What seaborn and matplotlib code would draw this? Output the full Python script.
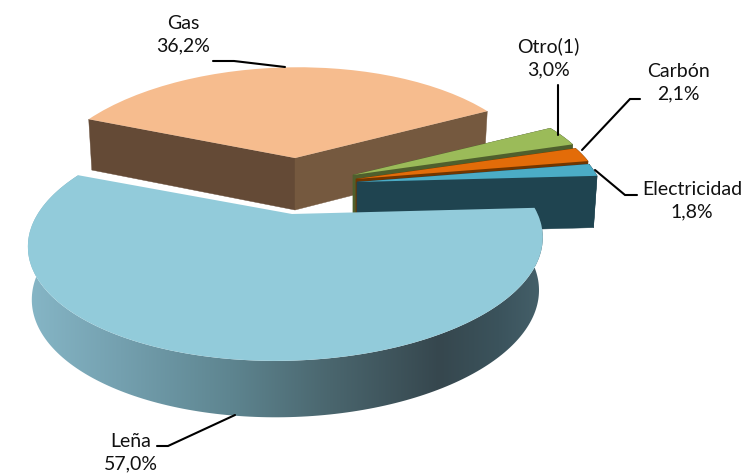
import numpy as np
import matplotlib
matplotlib.use("Agg")
import matplotlib.pyplot as plt
import matplotlib.transforms as mtransforms
from matplotlib.patches import Polygon
from matplotlib.colors import LinearSegmentedColormap
import seaborn as sns

# data (counter-clockwise from the start angle)
categories = ["Gas", "Leña", "Electricidad", "Carbón", "Otro(1)"]
shares = [36.2, 57.0, 1.8, 2.1, 3.0]
value_labels = ["36,2%", "57,0%", "1,8%", "2,1%", "3,0%"]

top_colors = ["#F6BC8E", "#92CBDA", "#4BACC6", "#E36C09", "#9BBB59"]
wall_colors = ["#75593F", "#3B5660", "#1F4450", "#713600", "#4F5F2D"]
side_wall_colors = ["#644A36", "#3B5660", "#1F4450", "#713600", "#4F5F2D"]
draw_rank = [0, 4, 3, 2, 1]

# slice displacement (exploded apex), in pixels
apex_x = [295, 292, 357, 356, 353]
apex_y = [158, 214, 182, 179, 175]
x_scale = [0.965, 1.0, 0.99, 0.99, 0.99]

label_x = [183, 131, 692, 678, 548]
label_y = [35, 453, 201, 83, 58]
leader_x = [[213, 234, 285], [157, 168, 235], [637, 625, 595], [640, 630, 582], [558, 558]]
leader_y = [[61, 61, 67], [446, 446, 415], [195, 195, 170], [99, 99, 150], [85, 135]]

# Leña outer wall shading, left to right
shade_pos = [28, 120, 230, 330, 440, 500, 543]
shade_cols = ["#86B6C6", "#74A0AF", "#5E8590", "#4A666E", "#36474E", "#3B535C", "#45606A"]

sns.set_theme(style="white")
plt.rcParams["font.family"] = ["Lato", "DejaVu Sans"]

A, B, C, D, P, Q = 250.0, -5.0, -6.0, -112.0, 0.03, 0.235
HEIGHT, SX, SY = 52.0, 0.985, 1.03


def project(x, y, ox, oy, sx=1.0, bottom=False):
    w = 1 + P * x + Q * y
    dx = sx * (A * x + B * y) / w
    dy = (C * x + D * y) / w
    if bottom:
        dx, dy = SX * dx, SY * dy + HEIGHT
    return ox + dx, oy + dy


class Ground(mtransforms.Transform):
    input_dims = 2
    output_dims = 2
    is_separable = False
    has_inverse = False

    def __init__(self, ox, oy, sx):
        super().__init__()
        self.ox, self.oy, self.sx = ox, oy, sx

    def transform_non_affine(self, values):
        values = np.asarray(values)
        px, py = project(values[:, 0], values[:, 1], self.ox, self.oy, self.sx)
        return np.column_stack([px, py])


fig = plt.figure(figsize=(7.41, 4.73), dpi=100)
ax = fig.add_axes([0, 0, 1, 1])
palette = sns.color_palette(top_colors)
wedges, _ = ax.pie(shares, colors=palette, startangle=25, counterclock=True,
                   wedgeprops=dict(linewidth=0))


def radial_wall(theta, ox, oy, sx, color, z):
    c, s = np.cos(np.radians(theta)), np.sin(np.radians(theta))
    pts = [project(0.0, 0.0, ox, oy, sx), project(c, s, ox, oy, sx),
           project(c, s, ox, oy, sx, True), project(0.0, 0.0, ox, oy, sx, True)]
    xs, ys = zip(*pts)
    ax.fill(xs, ys, color=color, lw=0.3, zorder=z)


def outer_outline(t1, t2, ox, oy, sx):
    ang = np.radians(np.linspace(t1, t2, 200))
    top = [project(np.cos(a), np.sin(a), ox, oy, sx) for a in ang]
    bot = [project(np.cos(a), np.sin(a), ox, oy, sx, True) for a in ang[::-1]]
    return np.array(top + bot)


for i, w in enumerate(wedges):
    ox, oy, sx = apex_x[i], apex_y[i], x_scale[i]
    z = 2 + 2 * draw_rank[i]
    if categories[i] == "Leña":
        outline = outer_outline(w.theta1, w.theta2, ox, oy, sx)
        cmap = LinearSegmentedColormap.from_list(
            "wall", [((p - shade_pos[0]) / (shade_pos[-1] - shade_pos[0]), c)
                     for p, c in zip(shade_pos, shade_cols)])
        img = ax.imshow(np.linspace(0, 1, 256)[None, :], cmap=cmap, aspect="auto",
                        extent=(shade_pos[0], shade_pos[-1], 430, 150), zorder=z,
                        interpolation="bilinear")
        img.set_clip_path(Polygon(outline, closed=True, transform=ax.transData))
    else:
        if categories[i] != "Gas":
            outline = outer_outline(w.theta1, w.theta2, ox, oy, sx)
            ax.fill(outline[:, 0], outline[:, 1], color=wall_colors[i], lw=0.3, zorder=z)
        radial_wall(w.theta2, ox, oy, sx, side_wall_colors[i], z)
        radial_wall(w.theta1, ox, oy, sx, wall_colors[i], z)
    w.set_transform(Ground(ox, oy, sx) + ax.transData)
    w.set_zorder(z + 1)

for name, val, lx, ly, xs, ys in zip(categories, value_labels, label_x, label_y, leader_x, leader_y):
    ax.text(lx, ly, f"{name}\n{val}", ha="center", va="center", fontsize=14,
            color="#111111", linespacing=1.4, zorder=30, clip_on=False)
    ax.plot(xs, ys, color="black", lw=1.5, zorder=29, solid_joinstyle="miter")

ax.set_aspect("auto")
ax.set_xlim(0, 741)
ax.set_ylim(473, 0)
ax.axis("off")

fig.savefig("out.png", dpi=100, facecolor="white")
